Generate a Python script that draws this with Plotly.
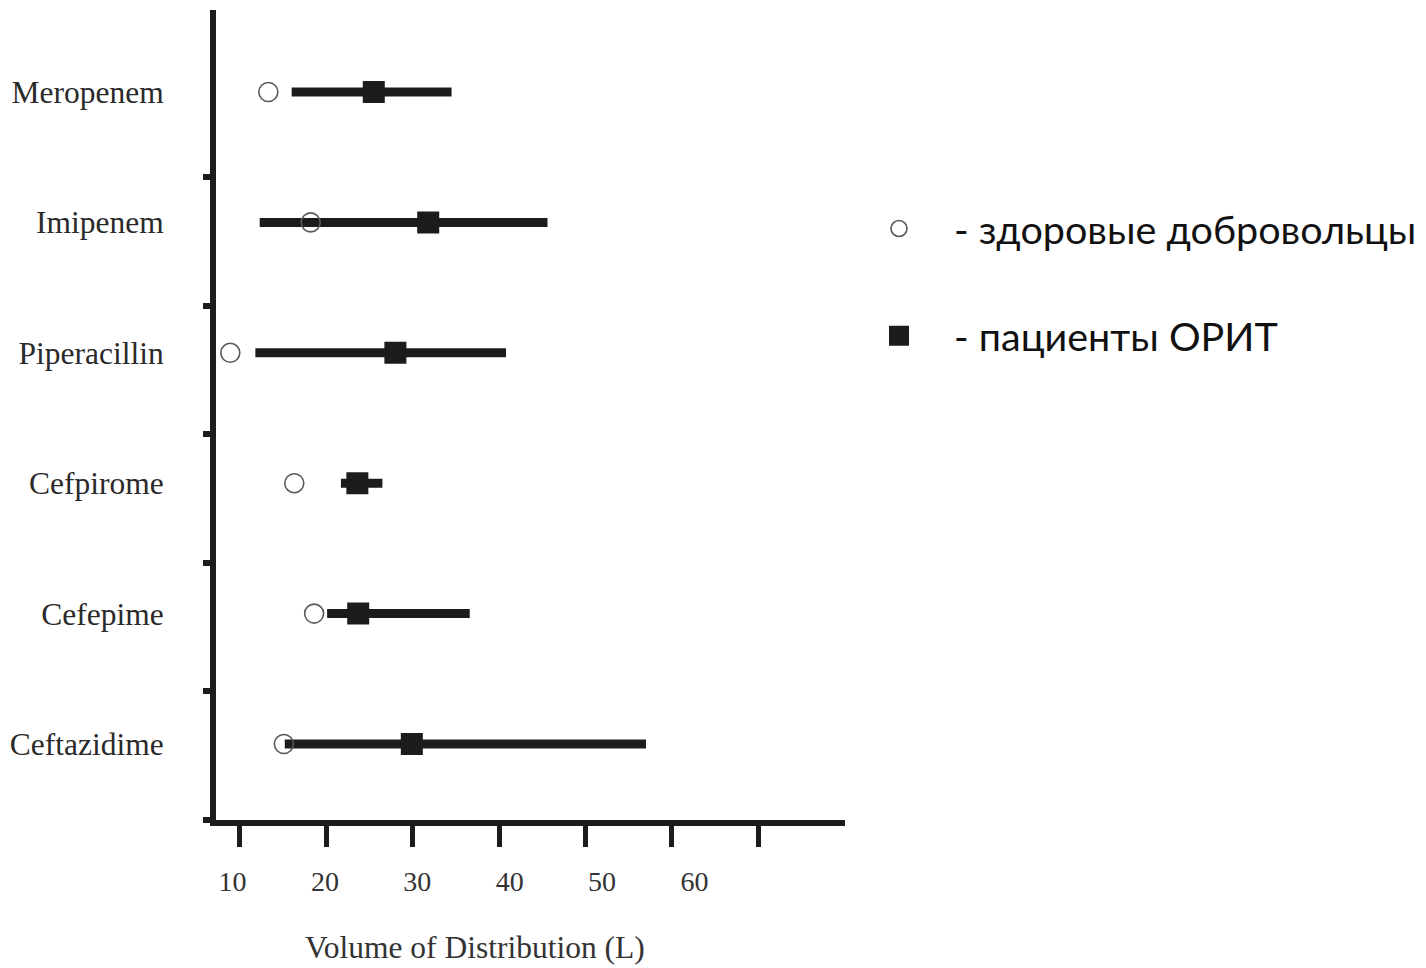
import plotly.graph_objects as go

# ---- data ----
drugs = ["Ceftazidime", "Cefepime", "Cefpirome", "Piperacillin", "Imipenem", "Meropenem"]
healthy_vd = [15.1, 18.6, 16.3, 8.9, 18.2, 13.3]
icu_vd = [29.9, 23.7, 23.6, 28.0, 31.8, 25.5]
icu_low = [15.2, 20.1, 21.7, 11.8, 12.3, 16.0]
icu_high = [57.0, 36.6, 26.5, 40.8, 45.6, 34.5]
x_tick_values = [10, 20, 30, 40, 50, 60, 70]
x_tick_labels = ["10", "20", "30", "40", "50", "60"]
legend_names = ["- здоровые добровольцы", "- пациенты ОРИТ"]
x_title = "Volume of Distribution (L)"

INK = "#1c1c1c"
SERIF = "Liberation Serif, Times New Roman, serif"
SANS = "Lato, Carlito, Open Sans, sans-serif"

ypos = list(range(len(drugs)))
err_plus = [h - m for h, m in zip(icu_high, icu_vd)]
err_minus = [m - l for m, l in zip(icu_vd, icu_low)]
minor_y = [-0.58 + 0.985 * k for k in range(len(drugs))]

fig = go.Figure()

fig.add_trace(go.Scatter(
    x=icu_vd, y=ypos, mode="markers", name=legend_names[1],
    legendgroup="b", legendrank=2,
    marker=dict(symbol="square", size=18, color=INK, line=dict(color=INK, width=4)),
    error_x=dict(type="data", symmetric=False, array=err_plus, arrayminus=err_minus,
                 thickness=9, width=0, color=INK),
))
fig.add_trace(go.Scatter(
    x=healthy_vd, y=ypos, mode="markers", name=legend_names[0],
    legendgroup="a", legendrank=1,
    marker=dict(symbol="circle-open", size=19, color="#5a5a5a", line=dict(width=1.6)),
))
# helper trace so the label axis is drawn
fig.add_trace(go.Scatter(x=[], y=[], xaxis="x2", showlegend=False, hoverinfo="skip"))

fig.update_layout(
    width=1426, height=968,
    margin=dict(l=216, r=581, t=10, b=148, autoexpand=False),
    paper_bgcolor="white", plot_bgcolor="white",
    showlegend=True,
    legend=dict(
        x=0.9984, xanchor="left", y=0.77, yanchor="top",
        font=dict(family=SANS, size=39.5, color="#111"),
        itemwidth=100, traceorder="grouped", tracegroupgap=53,
        bgcolor="rgba(0,0,0,0)",
    ),
    xaxis=dict(
        range=[7.245, 80.02], tickmode="array", tickvals=x_tick_values,
        showticklabels=False, ticks="outside", ticklen=21, tickwidth=5, tickcolor=INK,
        showline=True, linewidth=6, linecolor=INK, showgrid=False, zeroline=False,
    ),
    xaxis2=dict(
        overlaying="x", side="bottom", anchor="y",
        range=[8.214, 76.29], tickmode="array", tickvals=x_tick_values[:len(x_tick_labels)],
        ticktext=x_tick_labels, ticks="", showline=False, showgrid=False, zeroline=False,
        tickfont=dict(family=SERIF, size=28, color="#333"), ticklabelstandoff=42,
    ),
    yaxis=dict(
        range=[-0.583, 5.629], tickmode="array", tickvals=ypos, ticktext=drugs,
        ticks="", showline=True, linewidth=6, linecolor=INK, showgrid=False, zeroline=False,
        tickfont=dict(family=SERIF, size=31.5, color="#2a2a2a"), ticklabelstandoff=40,
        minor=dict(tickmode="array", tickvals=minor_y, ticks="outside", ticklen=7,
                   tickwidth=6, tickcolor=INK, showgrid=False),
    ),
    annotations=[dict(
        text=x_title, xref="paper", yref="paper", x=0.4118, y=-0.158,
        xanchor="center", yanchor="middle", showarrow=False,
        font=dict(family=SERIF, size=31.5, color="#333"),
    )],
)

fig.write_html("out.html")
